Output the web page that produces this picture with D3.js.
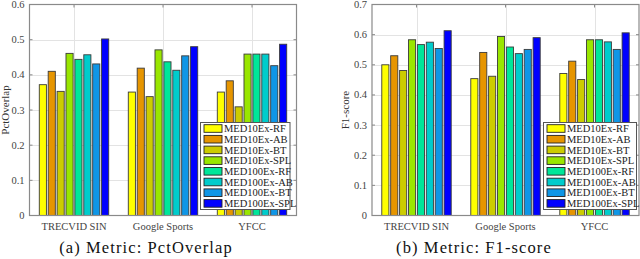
<!DOCTYPE html>
<html>
<head>
<meta charset="utf-8">
<script src="https://cdn.jsdelivr.net/npm/d3@7"></script>
<style>
  body { margin: 0; background: #fff; }
  svg { display: block; }
  text { font-family: "Liberation Serif", "Times New Roman", serif; }
</style>
</head>
<body>
<svg id="chart" width="640" height="259"></svg>
<script>
// datasets on the x axis
var categories = ["TRECVID SIN", "Google Sports", "YFCC"];

// methods (one bar per method in each group)
var methods = ["MED10Ex-RF", "MED10Ex-AB", "MED10Ex-BT", "MED10Ex-SPL",
               "MED100Ex-RF", "MED100Ex-AB", "MED100Ex-BT", "MED100Ex-SPL"];

var colors = ["#ffff00", "#e69500", "#cccc00", "#99e600",
              "#00e699", "#00cccc", "#0f96e6", "#0000ff"];

// PctOverlap values, one row per method, columns = categories
var pctOverlap = [
  [0.372, 0.351, 0.351],
  [0.410, 0.419, 0.383],
  [0.353, 0.338, 0.309],
  [0.461, 0.471, 0.459],
  [0.444, 0.437, 0.459],
  [0.457, 0.413, 0.459],
  [0.431, 0.454, 0.426],
  [0.502, 0.480, 0.487]
];

// F1-score values
var f1Score = [
  [0.500, 0.454, 0.471],
  [0.530, 0.541, 0.512],
  [0.481, 0.462, 0.451],
  [0.583, 0.594, 0.583],
  [0.567, 0.559, 0.583],
  [0.575, 0.537, 0.576],
  [0.554, 0.551, 0.551],
  [0.613, 0.590, 0.606]
];

var pctTicks = [0, 0.1, 0.2, 0.3, 0.4, 0.5, 0.6];
var f1Ticks = [0, 0.1, 0.2, 0.3, 0.4, 0.5, 0.6, 0.7];

var svg = d3.select("#chart");

function drawPanel(opt) {
  var g = svg.append("g");
  var x = d3.scaleLinear().domain([0.5, 3.5]).range([opt.left, opt.right]);
  var y = d3.scaleLinear().domain([0, opt.ymax]).range([opt.bottom, opt.top]);
  var n = methods.length;
  var groupW = 0.8, step = groupW / n, barW = step * 0.8;

  // grid
  g.selectAll(".hgrid").data(opt.ticks.slice(1, -1)).enter().append("line")
    .attr("x1", opt.left).attr("x2", opt.right)
    .attr("y1", function(d) { return Math.round(y(d)) + 0.5; })
    .attr("y2", function(d) { return Math.round(y(d)) + 0.5; })
    .attr("stroke", "#e3e3e3").attr("stroke-width", 1);
  g.selectAll(".vgrid").data(categories).enter().append("line")
    .attr("x1", function(d, i) { return Math.round(x(i + 1)) + 0.5; })
    .attr("x2", function(d, i) { return Math.round(x(i + 1)) + 0.5; })
    .attr("y1", opt.top).attr("y2", opt.bottom)
    .attr("stroke", "#e3e3e3").attr("stroke-width", 1);

  // bars
  opt.data.forEach(function(row, m) {
    g.selectAll(".bar" + m).data(row).enter().append("rect")
      .attr("x", function(d, c) { return x(c + 1 - groupW / 2 + step * m + (step - barW) / 2); })
      .attr("width", x(barW) - x(0))
      .attr("y", function(d) { return y(d); })
      .attr("height", function(d) { return y(0) - y(d); })
      .attr("fill", colors[m])
      .attr("stroke", "#3a3a3a").attr("stroke-width", 0.9);
  });

  // box
  g.append("rect")
    .attr("x", opt.left).attr("y", opt.top)
    .attr("width", opt.right - opt.left).attr("height", opt.bottom - opt.top)
    .attr("fill", "none").attr("stroke", "#8a8a8a").attr("stroke-width", 1.2);

  // y ticks
  g.selectAll(".ytl").data(opt.ticks).enter().append("line")
    .attr("x1", opt.left).attr("x2", opt.left + 3)
    .attr("y1", function(d) { return y(d); }).attr("y2", function(d) { return y(d); })
    .attr("stroke", "#8a8a8a");
  g.selectAll(".ytr").data(opt.ticks).enter().append("line")
    .attr("x1", opt.right).attr("x2", opt.right - 3)
    .attr("y1", function(d) { return y(d); }).attr("y2", function(d) { return y(d); })
    .attr("stroke", "#8a8a8a");
  g.selectAll(".ylab").data(opt.ticks).enter().append("text")
    .attr("x", opt.left - 5).attr("y", function(d) { return y(d) + 3.5; })
    .attr("text-anchor", "end").attr("font-size", 10.5).attr("fill", "#444")
    .text(function(d) { return d === 0 ? "0" : d3.format(".1f")(d); });

  // x ticks and labels
  g.selectAll(".xt").data(categories).enter().append("line")
    .attr("x1", function(d, i) { return x(i + 1); }).attr("x2", function(d, i) { return x(i + 1); })
    .attr("y1", opt.top).attr("y2", opt.top + 3)
    .attr("stroke", "#8a8a8a");
  g.selectAll(".xlab").data(categories).enter().append("text")
    .attr("x", function(d, i) { return x(i + 1); }).attr("y", opt.bottom + 14)
    .attr("text-anchor", "middle").attr("font-size", 10.5).attr("fill", "#444")
    .text(function(d) { return d; });

  // y axis title
  g.append("text")
    .attr("transform", "translate(" + opt.titleX + "," + ((opt.top + opt.bottom) / 2) + ") rotate(-90)")
    .attr("text-anchor", "middle").attr("font-size", 11).attr("fill", "#333")
    .text(opt.ylabel);

  // legend
  var lg = g.append("g").attr("transform", "translate(" + opt.legX + "," + opt.legY + ")");
  lg.append("rect").attr("x", 0).attr("y", 0).attr("width", opt.legW).attr("height", 87)
    .attr("fill", "#fff").attr("stroke", "#555").attr("stroke-width", 1);
  methods.forEach(function(name, m) {
    var cy = 6 + m * 10.7;
    lg.append("rect").attr("x", 3.5).attr("y", cy - 3.8).attr("width", 18).attr("height", 7.6)
      .attr("fill", colors[m]).attr("stroke", "#222").attr("stroke-width", 0.9);
    lg.append("text").attr("x", 23.5).attr("y", cy + 3.6)
      .attr("font-size", 10.5).attr("fill", "#222").text(name);
  });

  // caption
  svg.append("text")
    .attr("x", opt.capX).attr("y", 253)
    .attr("text-anchor", "middle").attr("font-size", 16.5).attr("fill", "#111")
    .attr("letter-spacing", 1.1)
    .text(opt.caption);
}

drawPanel({
  data: pctOverlap, ymax: 0.6, ticks: pctTicks,
  left: 29.5, right: 296.5, top: 4.5, bottom: 215.5,
  ylabel: "PctOverlap", titleX: 9,
  legX: 200.5, legY: 122.5, legW: 89.5,
  caption: "(a) Metric: PctOverlap", capX: 146
});

drawPanel({
  data: f1Score, ymax: 0.7, ticks: f1Ticks,
  left: 372, right: 639, top: 4.5, bottom: 215.5,
  ylabel: "F1-score", titleX: 349,
  legX: 543.5, legY: 122.5, legW: 93,
  caption: "(b) Metric: F1-score", capX: 474
});
</script>
</body>
</html>
